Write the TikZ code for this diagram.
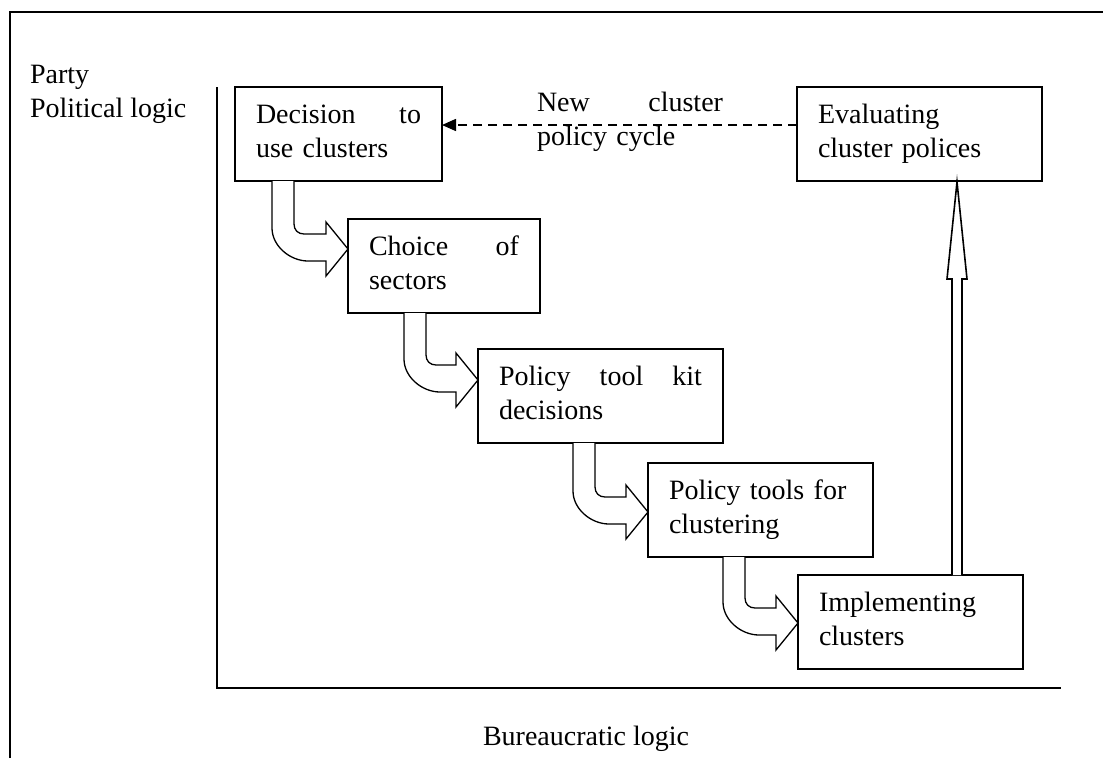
\documentclass[tikz,border=0pt]{standalone}
\usepackage{fontspec}
\setmainfont{Liberation Serif}
\usetikzlibrary{calc,arrows.meta}

\newcommand\bentarr[4]{%
  \coordinate (s) at ($(#1.south west)+(#2,0)$);
  \coordinate (t) at ($(#3.north west)+(0,#4)$);
  \draw[blockarrow] (s) -- ($(s|-t)+(0,-21)$)
    .. controls ($(s|-t)+(0,-3)$) and ($(s|-t)+(18,12)$) .. ($(s|-t)+(36,12)$)
    -- ($(t)+(-22,12)$) -- ($(t)+(-22,27)$) -- (t) -- ($(t)+(-22,-27)$)
    -- ($(t)+(-22,-15)$) -- ($(s|-t)+(32,-15)$)
    .. controls ($(s|-t)+(26,-15)$) and ($(s|-t)+(22,-19)$) .. ($(s|-t)+(22,-25)$)
    -- ($(s)+(22,0)$);
}

\begin{document}
\begin{tikzpicture}[x=1pt,y=-1pt,
  every node/.style={font=\fontsize{28}{34}\selectfont},
  box/.style={draw,line width=1.6pt,inner xsep=21pt,inner ysep=0pt,outer sep=0pt,
    align=left,minimum height=94pt,anchor=north west},
  blockarrow/.style={draw,fill=white,line width=1.3pt,line join=miter},
  frame/.style={line width=1.8pt},
  plain/.style={inner sep=0pt,outer sep=0pt,align=left}]
\useasboundingbox (0,0) rectangle (1103,758);

% frame
\draw[frame] (10,758) -- (10,12) -- (1103,12);
% axes
\coordinate (ax0) at (217,688);
\coordinate (axy) at (217,87);
\coordinate (axx) at (1061,688);
\draw[frame] (axy) -- (ax0) -- (axx);

% labels
\node[plain,anchor=north west] (party) at (30,59.2) {\strut Party\\Political logic\strut};
\node[plain,anchor=base west] (bureau) at (483,745) {Bureaucratic logic};

% boxes
\node[box,text width=165pt,minimum width=207pt] (b1) at (235,87) {\strut Decision\hfill to\\use clusters\strut};
\node[box,text width=150pt,minimum width=192pt] (b2) at (348,219) {\strut Choice\hfill of\\sectors\strut};
\node[box,text width=203pt,minimum width=245pt] (b3) at (478,349) {\strut Policy\hfill tool\hfill kit\\decisions\strut};
\node[box,text width=183pt,minimum width=225pt] (b4) at (648,463) {\strut Policy tools for\\clustering\strut};
\node[box,text width=183pt,minimum width=225pt] (b5) at (798,575) {\strut Implementing\\clusters\strut};
\node[box,text width=203pt,minimum width=245pt] (b6) at (797,87) {\strut Evaluating\\cluster polices\strut};

% dashed feedback arrow
\draw[line width=1.6pt,dash pattern=on 9pt off 6pt,-{Triangle[length=14pt,width=12pt]}]
  ($(b6.north west)+(0,38)$) -- ($(b1.north east)+(0,38)$);
\node[plain,anchor=north west,text width=186pt] (cyc) at (537,87.2) {\strut New\hfill cluster\\policy cycle\strut};

% bent block arrows
\bentarr{b1}{37}{b2}{30}
\bentarr{b2}{56}{b3}{31}
\bentarr{b3}{95}{b4}{49}
\bentarr{b4}{75}{b5}{48}

% vertical hollow arrow
\coordinate (vb) at ($(b5.north west)+(159,0)$);
\coordinate (vt) at ($(b6.south -| vb)+(0,1)$);
\draw[blockarrow,line width=1.6pt] ($(vb)+(-5,0)$) -- ($(vt)+(-5,97)$) -- ($(vt)+(-10,97)$)
  -- (vt) -- ($(vt)+(10,97)$) -- ($(vt)+(5,97)$) -- ($(vb)+(5,0)$);
\end{tikzpicture}
\end{document}
